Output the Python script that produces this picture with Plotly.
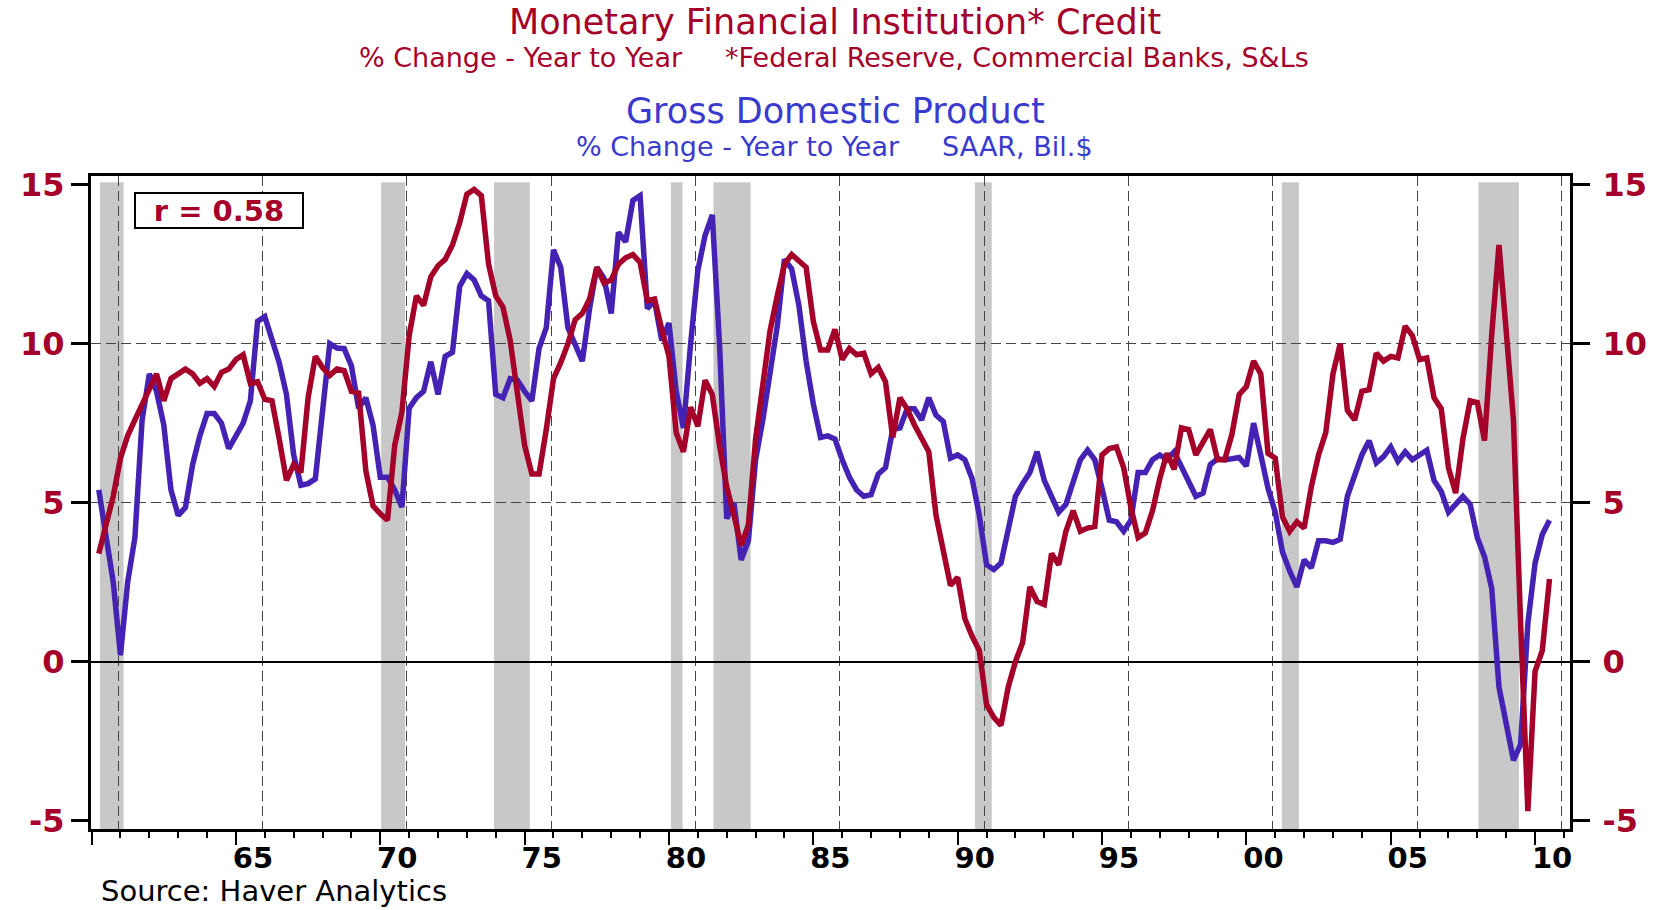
import plotly.graph_objects as go

# ---------------- data (quarterly, 1960Q1 .. 2010Q2, plotted at quarter end) ----------------
first_year = 1960

credit_yoy = [
    3.4, 4.3, 5.2, 6.4,        # 1960
    7.1, 7.6, 8.1, 8.65,       # 1961
    9.05, 8.2, 8.9, 9.05,      # 1962
    9.2, 9.05, 8.75, 8.9,      # 1963
    8.65, 9.1, 9.2, 9.5,       # 1964
    9.65, 8.75, 8.8, 8.25,     # 1965
    8.2, 7.0, 5.7, 6.2,        # 1966
    5.95, 8.3, 9.6, 9.25,      # 1967
    9.0, 9.2, 9.15, 8.5,       # 1968
    8.45, 6.0, 4.9, 4.65,      # 1969
    4.45, 6.8, 7.85, 10.25,    # 1970
    11.5, 11.2, 12.1, 12.45,   # 1971
    12.65, 13.1, 13.8, 14.7,   # 1972
    14.85, 14.65, 12.5, 11.5,  # 1973
    11.15, 10.1, 8.4, 6.8,     # 1974
    5.9, 5.9, 7.3, 8.9,        # 1975
    9.4, 10.0, 10.75, 10.95,   # 1976
    11.4, 12.4, 11.9, 12.0,    # 1977
    12.5, 12.7, 12.8, 12.55,   # 1978
    11.35, 11.4, 10.45, 9.6,   # 1979
    7.2, 6.6, 8.0, 7.4,        # 1980
    8.85, 8.4, 6.8, 5.5,       # 1981
    4.6, 3.65, 4.3, 7.0,       # 1982
    8.7, 10.4, 11.5, 12.5,     # 1983
    12.8, 12.6, 12.4, 10.7,    # 1984
    9.8, 9.8, 10.45, 9.5,      # 1985
    9.85, 9.65, 9.7, 9.05,     # 1986
    9.25, 8.8, 7.05, 8.3,      # 1987
    7.95, 7.45, 7.0, 6.6,      # 1988
    4.6, 3.4, 2.4, 2.65,       # 1989
    1.35, 0.8, 0.35, -1.35,    # 1990
    -1.75, -2.0, -0.8, 0.0,    # 1991
    0.6, 2.35, 1.9, 1.8,       # 1992
    3.4, 3.05, 4.1, 4.75,      # 1993
    4.1, 4.2, 4.25, 6.5,       # 1994
    6.7, 6.75, 6.1, 4.85,      # 1995
    3.9, 4.05, 4.75, 5.75,     # 1996
    6.55, 6.05, 7.35, 7.3,     # 1997
    6.5, 6.9, 7.3, 6.35,       # 1998
    6.35, 7.15, 8.4, 8.65,     # 1999
    9.45, 9.05, 6.55, 6.4,     # 2000
    4.55, 4.1, 4.4, 4.2,       # 2001
    5.5, 6.5, 7.2, 9.05,       # 2002
    10.0, 7.9, 7.6, 8.5,       # 2003
    8.55, 9.7, 9.45, 9.6,      # 2004
    9.55, 10.55, 10.25, 9.5,   # 2005
    9.55, 8.3, 7.95, 6.1,      # 2006
    5.3, 7.0, 8.2, 8.15,       # 2007
    6.95, 10.3, 13.1, 10.4,    # 2008
    7.6, 1.2, -4.7, -0.3,      # 2009
    0.35, 2.6,                 # 2010
]

gdp_yoy = [
    5.4, 4.0, 2.5, 0.2,        # 1960
    2.5, 3.9, 7.6, 9.05,       # 1961
    8.5, 7.45, 5.4, 4.6,       # 1962
    4.85, 6.2, 7.1, 7.8,       # 1963
    7.8, 7.5, 6.7, 7.1,        # 1964
    7.5, 8.2, 10.7, 10.85,     # 1965
    10.1, 9.4, 8.4, 6.5,       # 1966
    5.55, 5.6, 5.75, 7.7,      # 1967
    10.0, 9.86, 9.84, 9.3,     # 1968
    7.97, 8.3, 7.43, 5.8,      # 1969
    5.8, 5.4, 4.86, 7.97,      # 1970
    8.3, 8.5, 9.43, 8.4,       # 1971
    9.6, 9.73, 11.8, 12.2,     # 1972
    12.0, 11.5, 11.35, 8.4,    # 1973
    8.3, 8.9, 8.85, 8.5,       # 1974
    8.2, 9.85, 10.5, 12.95,    # 1975
    12.4, 10.5, 10.0, 9.45,    # 1976
    11.1, 12.4, 12.05, 10.95,  # 1977
    13.5, 13.2, 14.5, 14.65,   # 1978
    11.1, 11.35, 10.1, 10.65,  # 1979
    8.5, 7.35, 10.0, 12.3,     # 1980
    13.4, 14.05, 10.0, 4.5,    # 1981
    5.0, 3.2, 3.8, 6.35,       # 1982
    7.6, 9.0, 10.55, 12.65,    # 1983
    12.35, 11.2, 9.45, 8.1,    # 1984
    7.05, 7.1, 7.0, 6.35,      # 1985
    5.8, 5.4, 5.2, 5.25,       # 1986
    5.9, 6.1, 7.3, 7.35,       # 1987
    7.95, 7.95, 7.6, 8.3,      # 1988
    7.75, 7.55, 6.4, 6.5,      # 1989
    6.35, 5.75, 4.6, 3.05,     # 1990
    2.9, 3.1, 4.2, 5.2,        # 1991
    5.6, 5.95, 6.6, 5.7,       # 1992
    5.2, 4.7, 4.95, 5.6,       # 1993
    6.35, 6.65, 6.35, 5.45,    # 1994
    4.45, 4.4, 4.1, 4.45,      # 1995
    5.95, 5.95, 6.35, 6.5,     # 1996
    6.35, 6.6, 6.15, 5.7,      # 1997
    5.2, 5.3, 6.2, 6.38,       # 1998
    6.35, 6.38, 6.42, 6.15,    # 1999
    7.5, 6.5, 5.45, 4.7,       # 2000
    3.45, 2.85, 2.35, 3.2,     # 2001
    2.95, 3.8, 3.8, 3.75,      # 2002
    3.85, 5.2, 5.9, 6.5,       # 2003
    6.95, 6.25, 6.45, 6.75,    # 2004
    6.3, 6.6, 6.35, 6.5,       # 2005
    6.65, 5.7, 5.35, 4.7,      # 2006
    4.95, 5.2, 4.95, 3.9,      # 2007
    3.3, 2.3, -0.8, -2.0,      # 2008
    -3.1, -2.6, 1.2, 3.1,      # 2009
    4.0, 4.45,                 # 2010
]

recession_start = [1960.29, 1970.03, 1973.94, 1980.07, 1981.54, 1990.60, 2001.23, 2008.04]
recession_end = [1961.11, 1970.86, 1975.18, 1980.47, 1982.83, 1991.18, 2001.82, 2009.44]

major_years = list(range(1960, 2011, 5))
year_labels = ["", "65", "70", "75", "80", "85", "90", "95", "00", "05", "10"]
y_ticks = [-5, 0, 5, 10, 15]
y_labels = ["-5", "0", "5", "10", "15"]
correlation = 0.58

# ---------------- styling ----------------
RED = "#A5002A"
BLUE = "#4322B4"
TITLE_BLUE = "#3A3ACF"
SHADE = "#C8C8C8"
GRID = "#444444"

W, H = 1665, 910
L, R, T, B = 91, 1570, 176, 829          # plot area edges in pixels
X_RANGE = [1959.98, 2011.21]
Y_RANGE = [-5.26, 15.27]


def px_x(px):
    return (px - L) / (R - L)


def px_y(py):
    return (B - py) / (B - T)


quarters = [first_year + (i + 1) / 4 for i in range(len(gdp_yoy))]
grid_years = [y + 0.92 for y in major_years]

fig = go.Figure()
fig.add_trace(go.Scatter(x=quarters, y=gdp_yoy, mode="lines",
                         line=dict(color=BLUE, width=5.5), xaxis="x", yaxis="y",
                         name="GDP", hoverinfo="skip"))
fig.add_trace(go.Scatter(x=quarters[:len(credit_yoy)], y=credit_yoy, mode="lines",
                         line=dict(color=RED, width=5.5), xaxis="x2", yaxis="y2",
                         name="Credit", hoverinfo="skip"))

shapes = []
for s, e in zip(recession_start, recession_end):
    shapes.append(dict(type="rect", xref="x", yref="y", x0=s, x1=e,
                       y0=Y_RANGE[0], y1=15.07, fillcolor=SHADE,
                       line=dict(width=0), layer="below"))
shapes.append(dict(type="line", xref="paper", yref="y", x0=0, x1=1, y0=12.2, y1=12.2,
                   line=dict(color="white", width=1.5), layer="below"))

tick_font_red = dict(family="DejaVu Sans", size=32, color=RED, weight="bold")

fig.update_layout(
    width=W, height=H, autosize=False,
    margin=dict(l=L, r=W - R, t=T, b=H - B, pad=0),
    paper_bgcolor="white", plot_bgcolor="white",
    showlegend=False,
    shapes=shapes,
    xaxis=dict(
        range=X_RANGE, tickmode="array", tickvals=major_years, ticktext=year_labels,
        ticks="outside", ticklen=13, tickwidth=2, tickcolor="black",
        ticklabelshift=17, ticklabelstandoff=-12,
        tickfont=dict(family="DejaVu Sans", size=29, color="black", weight="bold"),
        showline=True, linewidth=3, linecolor="black", mirror=True,
        showgrid=False, zeroline=False,
        minor=dict(tick0=1960, dtick=1, ticks="outside", ticklen=6, tickwidth=2,
                   tickcolor="black", showgrid=False),
    ),
    xaxis2=dict(
        range=X_RANGE, overlaying="x", anchor="y2", side="bottom",
        tickmode="array", tickvals=grid_years, showticklabels=False, ticks="",
        showgrid=True, gridcolor=GRID, gridwidth=1, griddash="10px,5px",
        showline=False, zeroline=False,
    ),
    yaxis=dict(
        range=Y_RANGE, tickmode="array", tickvals=y_ticks, ticktext=y_labels,
        ticks="outside", ticklen=17, tickwidth=3, tickcolor="black",
        tickfont=tick_font_red,
        showline=True, linewidth=3, linecolor="black",
        showgrid=False, zeroline=True, zerolinecolor="black", zerolinewidth=1.5,
        minor=dict(tickmode="array", tickvals=[5, 10], ticks="", showgrid=True,
                   gridcolor=GRID, gridwidth=1, griddash="10px,5px"),
    ),
    yaxis2=dict(
        range=Y_RANGE, overlaying="y", anchor="x2", side="right",
        tickmode="array", tickvals=y_ticks, ticktext=y_labels,
        ticks="outside", ticklen=17, tickwidth=3, tickcolor="black",
        ticklabelstandoff=6,
        tickfont=tick_font_red,
        showline=True, linewidth=3, linecolor="black",
        showgrid=False, zeroline=False,
    ),
)

nb = "\u00a0" * 5
annotations = [
    dict(text="Monetary Financial Institution* Credit", x=px_x(835), y=px_y(22),
         font=dict(family="DejaVu Sans", size=35, color=RED)),
    dict(text="% Change - Year to Year" + nb + "*Federal Reserve, Commercial Banks, S&amp;Ls",
         x=px_x(834), y=px_y(57), font=dict(family="DejaVu Sans", size=27, color=RED)),
    dict(text="Gross Domestic Product", x=px_x(835), y=px_y(111),
         font=dict(family="DejaVu Sans", size=35, color=TITLE_BLUE)),
    dict(text="% Change - Year to Year" + nb + "SAAR, Bil.$", x=px_x(834), y=px_y(146),
         font=dict(family="DejaVu Sans", size=27, color=TITLE_BLUE)),
    dict(text="Source: Haver Analytics", x=px_x(99), y=px_y(891), xanchor="left",
         font=dict(family="DejaVu Sans", size=29, color="black")),
    dict(text=f"r = {correlation:.2f}", x=px_x(219), y=px_y(210.5),
         width=164, height=31, borderpad=1, bordercolor="black", borderwidth=2,
         bgcolor="white",
         font=dict(family="DejaVu Sans", size=29, color=RED, weight="bold")),
]
for a in annotations:
    a.setdefault("xanchor", "center")
    a.update(xref="paper", yref="paper", yanchor="middle", showarrow=False)
fig.update_layout(annotations=annotations)

fig.write_html("out.html", config={"displayModeBar": False},
               post_script="document.body.style.margin='0px';")
